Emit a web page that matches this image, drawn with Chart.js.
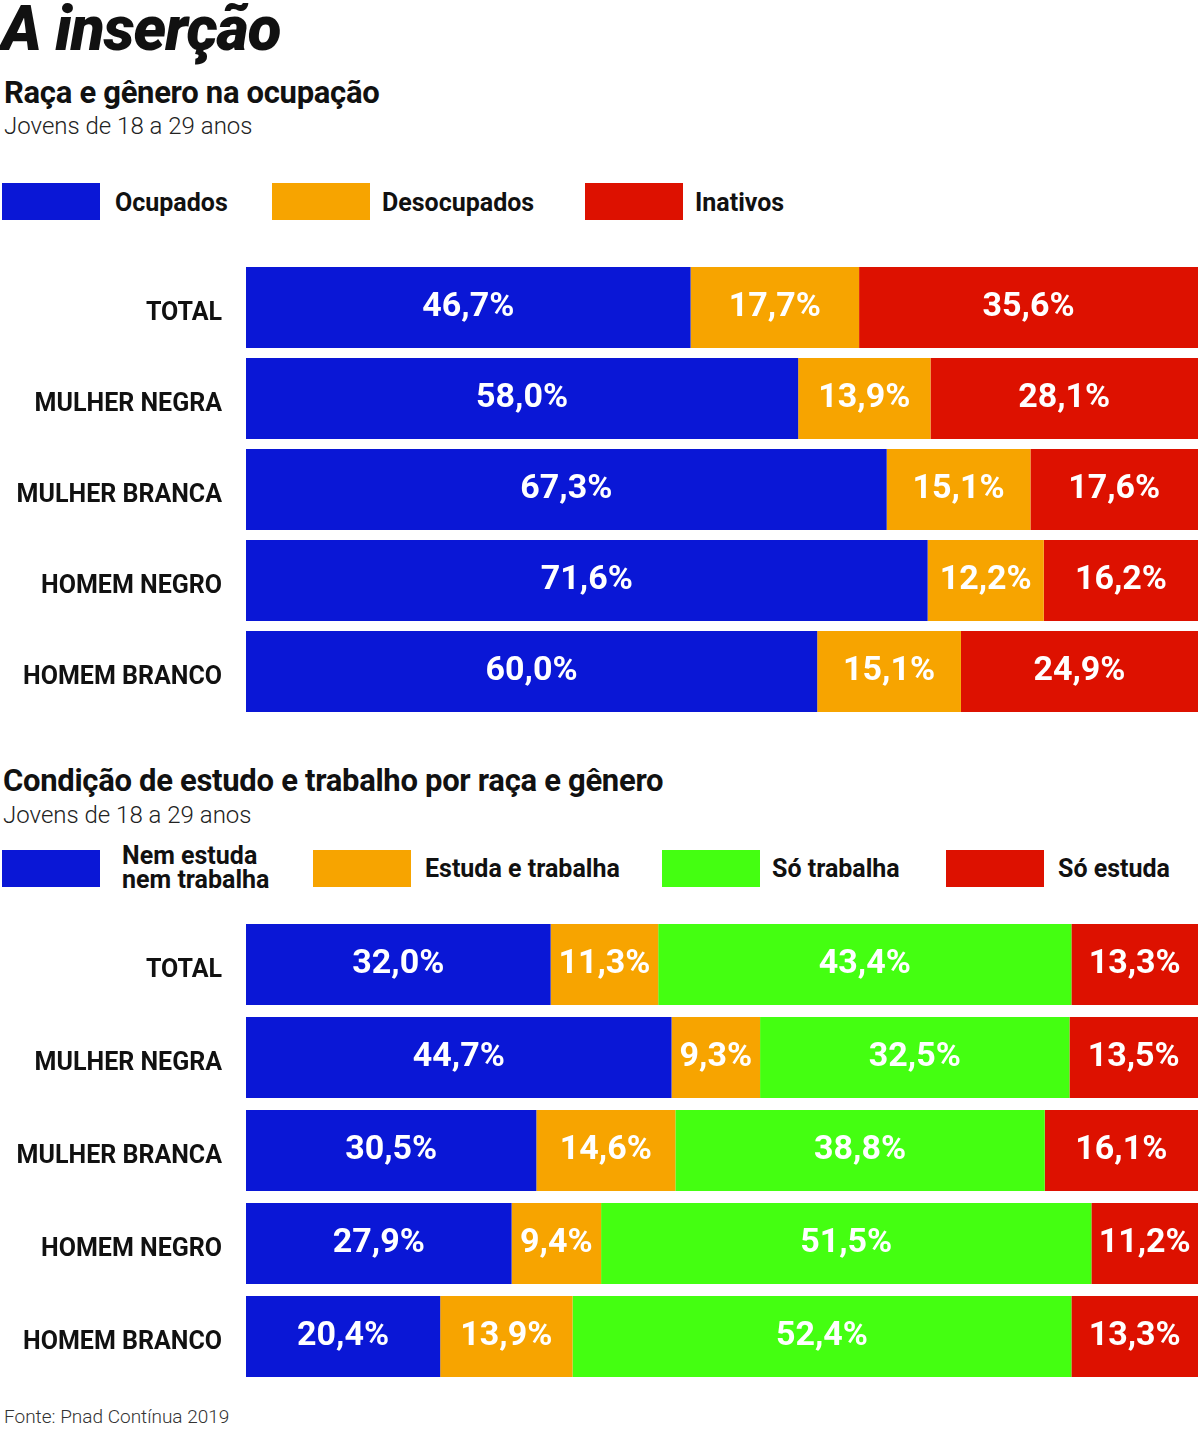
<!DOCTYPE html>
<html>
<head>
<meta charset="utf-8">
<script src="https://cdn.jsdelivr.net/npm/chart.js@4"></script>
<style>
  body { margin: 0; background: #fff; font-family: Roboto, sans-serif; color: #111; }
  #page { position: relative; width: 1200px; height: 1448px; overflow: hidden; }
  .abs { position: absolute; white-space: nowrap; }
  .title { font-size: 62px; font-weight: 900; font-style: italic; line-height: 1; letter-spacing: -1px; }
  .sub { font-size: 31px; font-weight: 700; line-height: 1; letter-spacing: -0.3px; }
  .note { font-size: 24px; font-weight: 300; line-height: 1; color: #222; }
  .sw { position: absolute; width: 98px; height: 37px; }
  .lg { font-size: 25px; font-weight: 700; line-height: 1; }
  .chartBox { position: absolute; left: 0; width: 1200px; }
</style>
</head>
<body>
<div id="page">
  <div class="abs title" style="left:1px; top:-2px;">A inserção</div>
  <div class="abs sub" style="left:4px; top:77px;">Raça e gênero na ocupação</div>
  <div class="abs note" style="left:4px; top:114px;">Jovens de 18 a 29 anos</div>

  <div class="sw" style="left:2px; top:183px; background:#0a17d6;"></div>
  <div class="abs lg" style="left:115px; top:190px;">Ocupados</div>
  <div class="sw" style="left:272px; top:183px; background:#f7a400;"></div>
  <div class="abs lg" style="left:382px; top:190px;">Desocupados</div>
  <div class="sw" style="left:585px; top:183px; background:#dd1100;"></div>
  <div class="abs lg" style="left:695px; top:190px;">Inativos</div>

  <div class="chartBox" style="top:262px; height:455px;"><canvas id="chart1"></canvas></div>

  <div class="abs sub" style="left:3px; top:765px;">Condição de estudo e trabalho por raça e gênero</div>
  <div class="abs note" style="left:3px; top:803px;">Jovens de 18 a 29 anos</div>

  <div class="sw" style="left:2px; top:850px; background:#0a17d6;"></div>
  <div class="abs lg" style="left:122px; top:844px; line-height:24px;">Nem estuda<br>nem trabalha</div>
  <div class="sw" style="left:313px; top:850px; background:#f7a400;"></div>
  <div class="abs lg" style="left:425px; top:856px;">Estuda e trabalha</div>
  <div class="sw" style="left:662px; top:850px; background:#44ff11;"></div>
  <div class="abs lg" style="left:772px; top:856px;">Só trabalha</div>
  <div class="sw" style="left:946px; top:850px; background:#dd1100;"></div>
  <div class="abs lg" style="left:1058px; top:856px;">Só estuda</div>

  <div class="chartBox" style="top:918px; height:465px;"><canvas id="chart2"></canvas></div>

  <div class="abs" style="left:4px; top:1405px; font-size:19px; font-weight:300; color:#333;">Fonte: Pnad Contínua 2019</div>
</div>

<script>
// data
const groups = ['TOTAL', 'MULHER NEGRA', 'MULHER BRANCA', 'HOMEM NEGRO', 'HOMEM BRANCO'];

const ocupados    = [46.7, 58.0, 67.3, 71.6, 60.0];
const desocupados = [17.7, 13.9, 15.1, 12.2, 15.1];
const inativos    = [35.6, 28.1, 17.6, 16.2, 24.9];

const nemEstudaNemTrabalha = [32.0, 44.7, 30.5, 27.9, 20.4];
const estudaETrabalha      = [11.3,  9.3, 14.6,  9.4, 13.9];
const soTrabalha           = [43.4, 32.5, 38.8, 51.5, 52.4];
const soEstuda             = [13.3, 13.5, 16.1, 11.2, 13.3];

const BLUE = '#0a17d6', ORANGE = '#f7a400', RED = '#dd1100', GREEN = '#44ff11';

// white percentage labels centred in each segment
const segmentLabels = {
    id: 'segmentLabels',
    afterDatasetsDraw(chart) {
        const c = chart.ctx;
        c.save();
        c.font = 'bold 34px Roboto, sans-serif';
        c.fillStyle = '#fff';
        c.textAlign = 'center';
        c.textBaseline = 'middle';
        chart.data.datasets.forEach((ds, i) => {
            chart.getDatasetMeta(i).data.forEach((bar, j) => {
                const p = bar.getCenterPoint();
                c.fillText(ds.data[j].toFixed(1).replace('.', ',') + '%', p.x, p.y);
            });
        });
        c.restore();
    }
};

function makeChart(id, sets, barPct) {
    return new Chart(document.getElementById(id), {
        type: 'bar',
        data: {
            labels: groups,
            datasets: sets.map(s => ({
                data: s.data,
                backgroundColor: s.color,
                borderWidth: 0,
                categoryPercentage: 1,
                barPercentage: barPct
            }))
        },
        options: {
            indexAxis: 'y',
            responsive: true,
            maintainAspectRatio: false,
            animation: false,
            layout: { padding: { right: 2 } },
            plugins: { legend: { display: false }, tooltip: { enabled: false } },
            scales: {
                x: { stacked: true, min: 0, max: 100, display: false },
                y: {
                    stacked: true,
                    grid: { display: false, drawTicks: false },
                    border: { display: false },
                    ticks: {
                        color: '#111', padding: 24, labelOffset: 6,
                        font: { family: 'Roboto', weight: 'bold', size: 25 }
                    },
                    afterFit(axis) {
                        axis.width = 246;
                        axis.paddingTop = 0;
                        axis.paddingBottom = 0;
                    }
                }
            }
        },
        plugins: [segmentLabels]
    });
}

makeChart('chart1', [
    { data: ocupados, color: BLUE },
    { data: desocupados, color: ORANGE },
    { data: inativos, color: RED }
], 0.89);

makeChart('chart2', [
    { data: nemEstudaNemTrabalha, color: BLUE },
    { data: estudaETrabalha, color: ORANGE },
    { data: soTrabalha, color: GREEN },
    { data: soEstuda, color: RED }
], 0.87);
</script>
</body>
</html>
